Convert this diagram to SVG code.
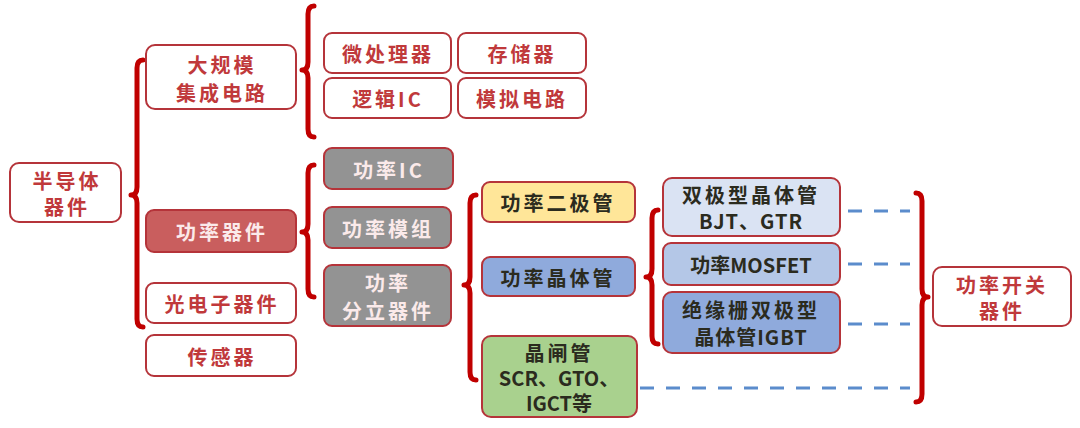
<svg xmlns="http://www.w3.org/2000/svg" width="1080" height="428" viewBox="0 0 1080 428">
<style>
.box{stroke:#b5343a;stroke-width:2}
.w{fill:#ffffff}
.t{font-family:"Noto Sans CJK SC","Noto Sans",sans-serif;font-weight:bold;font-size:20px;text-anchor:middle;dominant-baseline:central;letter-spacing:3px}
.red{fill:#c0393b}
.lt{fill:#fbeaea}
.dk{fill:#2b2b1e}
.br{fill:none;stroke:#c00000;stroke-width:5;stroke-linecap:round;stroke-linejoin:round}
.ds{fill:none;stroke:#5b8ccc;stroke-width:3;stroke-dasharray:14 12}
</style>
<rect width="1080" height="428" fill="#ffffff"/>
<g id="connectors">
<path class="br" d="M143,60 Q137,60 137,68 L137,187 Q137,195 131,195 Q137,195 137,203 L137,319 Q137,327 143,327"/>
<path class="br" d="M314,6 Q308,6 308,14 L308,62 Q308,70 302,70 Q308,70 308,78 L308,129 Q308,137 314,137"/>
<path class="br" d="M314,165 Q308,165 308,173 L308,224 Q308,232 302,232 Q308,232 308,240 L308,289 Q308,297 314,297"/>
<path class="br" d="M476,195 Q470,195 470,203 L470,277 Q470,285 464,285 Q470,285 470,293 L470,372 Q470,380 476,380"/>
<path class="br" d="M658,210 Q652,210 652,218 L652,269 Q652,277 646,277 Q652,277 652,285 L652,336 Q652,344 658,344"/>
<path class="br" d="M916,193 Q922,193 922,201 L922,289 Q922,297 928,297 Q922,297 922,305 L922,394 Q922,402 916,402"/>
<line class="ds" x1="848" y1="211" x2="910" y2="211"/>
<line class="ds" x1="848" y1="264" x2="910" y2="264"/>
<line class="ds" x1="848" y1="324" x2="910" y2="324"/>
<line class="ds" x1="640" y1="388" x2="910" y2="388"/>
</g>
<g id="n-semiconductor">
<rect class="box w" x="10" y="163" width="111" height="59" rx="9"/>
<text class="t red" x="67" y="180">半导体</text>
<text class="t red" x="67" y="206">器件</text>
</g>
<g id="n-lsi">
<rect class="box w" x="146" y="45" width="150" height="64" rx="9"/>
<text class="t red" x="222" y="64">大规模</text>
<text class="t red" x="222" y="92">集成电路</text>
</g>
<g id="n-power-device">
<rect class="box" fill="#c95e5e" x="146" y="210" width="150" height="42" rx="8"/>
<text class="t lt" x="222" y="231">功率器件</text>
</g>
<g id="n-opto">
<rect class="box w" x="146" y="283" width="150" height="40" rx="8"/>
<text class="t red" x="222" y="303">光电子器件</text>
</g>
<g id="n-sensor">
<rect class="box w" x="146" y="335" width="150" height="41" rx="8"/>
<text class="t red" x="222" y="356">传感器</text>
</g>
<g id="n-cpu">
<rect class="box w" x="324" y="33" width="127" height="40" rx="8"/>
<text class="t red" x="388" y="53">微处理器</text>
</g>
<g id="n-memory">
<rect class="box w" x="458" y="33" width="128" height="40" rx="8"/>
<text class="t red" x="522" y="53">存储器</text>
</g>
<g id="n-logic">
<rect class="box w" x="324" y="78" width="127" height="40" rx="8"/>
<text class="t red" x="388" y="98">逻辑IC</text>
</g>
<g id="n-analog">
<rect class="box w" x="458" y="78" width="128" height="40" rx="8"/>
<text class="t red" x="522" y="98">模拟电路</text>
</g>
<g id="n-power-ic">
<rect class="box" fill="#939393" x="324" y="148" width="129" height="41" rx="8"/>
<text class="t lt" x="389" y="169">功率IC</text>
</g>
<g id="n-power-module">
<rect class="box" fill="#939393" x="324" y="207" width="127" height="41" rx="8"/>
<text class="t lt" x="388" y="228">功率模组</text>
</g>
<g id="n-power-discrete">
<rect class="box" fill="#939393" x="324" y="265" width="127" height="61" rx="8"/>
<text class="t lt" x="388" y="282">功率</text>
<text class="t lt" x="388" y="310">分立器件</text>
</g>
<g id="n-diode">
<rect class="box" fill="#ffe699" x="482" y="182" width="153" height="40" rx="8"/>
<text class="t dk" x="558" y="202">功率二极管</text>
</g>
<g id="n-transistor">
<rect class="box" fill="#8faadc" x="482" y="257" width="153" height="39" rx="8"/>
<text class="t dk" x="558" y="277">功率晶体管</text>
</g>
<g id="n-thyristor">
<rect class="box" fill="#a9d18e" x="482" y="336" width="155" height="81" rx="9"/>
<text class="t dk" x="559" y="352">晶闸管</text>
<text class="t dk" x="559" y="377" style="letter-spacing:0">SCR、GTO、</text>
<text class="t dk" x="559" y="402" style="letter-spacing:0">IGCT等</text>
</g>
<g id="n-bjt">
<rect class="box" fill="#dae3f3" x="663" y="178" width="177" height="58" rx="9"/>
<text class="t dk" x="751" y="194">双极型晶体管</text>
<text class="t dk" x="751" y="220" style="letter-spacing:1px">BJT、GTR</text>
</g>
<g id="n-mosfet">
<rect class="box" fill="#b4c7e7" x="663" y="243" width="177" height="42" rx="8"/>
<text class="t dk" x="751" y="264" style="letter-spacing:0">功率MOSFET</text>
</g>
<g id="n-igbt">
<rect class="box" fill="#8faadc" x="663" y="292" width="177" height="61" rx="9"/>
<text class="t dk" x="751" y="309">绝缘栅双极型</text>
<text class="t dk" x="751" y="336" style="letter-spacing:1px">晶体管IGBT</text>
</g>
<g id="n-switch">
<rect class="box w" x="933" y="267" width="138" height="59" rx="9"/>
<text class="t red" x="1002" y="284">功率开关</text>
<text class="t red" x="1002" y="310">器件</text>
</g>
</svg>
